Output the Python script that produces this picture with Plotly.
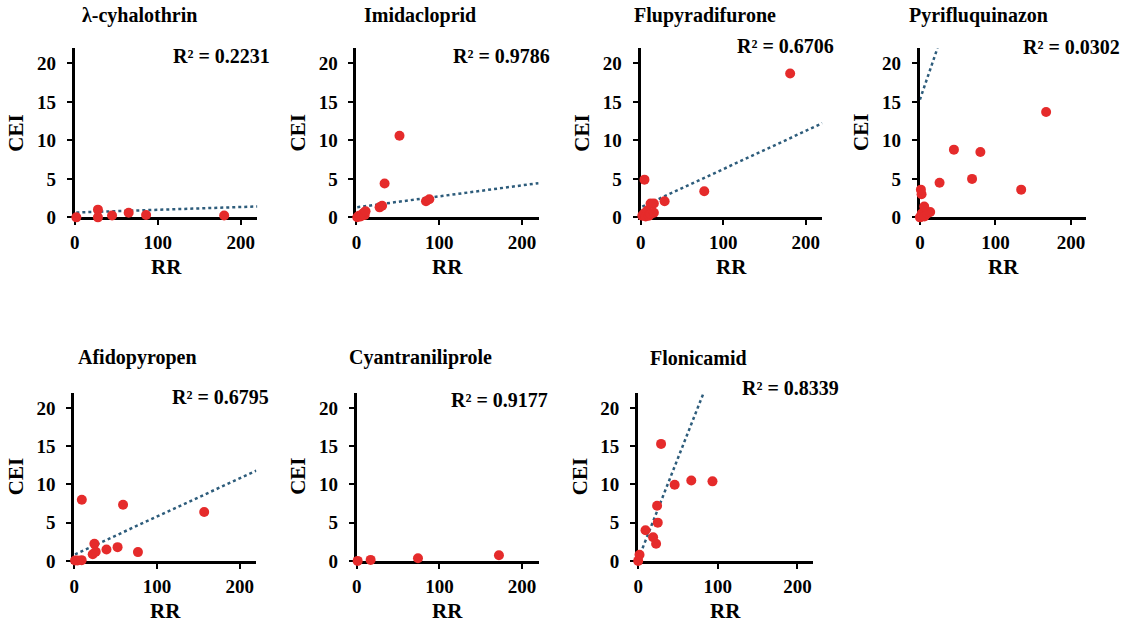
import plotly.graph_objects as go

W, H = 1124, 626   # reference size; all positions below are fractions of it
FIG_H = 638        # rendered height (the capture maps it onto the 626-px picture)

# ---------------- data ----------------
titles = ["λ-cyhalothrin", "Imidacloprid", "Flupyradifurone", "Pyrifluquinazon",
          "Afidopyropen", "Cyantraniliprole", "Flonicamid"]
r2_labels = ["R² = 0.2231", "R² = 0.9786", "R² = 0.6706", "R² = 0.0302",
             "R² = 0.6795", "R² = 0.9177", "R² = 0.8339"]

rr_cyhalothrin = [2, 28, 28, 45, 65, 86, 180]
cei_cyhalothrin = [0.0, 1.0, 0.0, 0.25, 0.6, 0.3, 0.25]

rr_imidacloprid = [1, 3, 5, 7, 9, 10, 11, 28, 31, 34, 52, 84, 88]
cei_imidacloprid = [0.02, 0.2, 0.1, 0.4, 0.6, 0.3, 0.8, 1.3, 1.5, 4.4, 10.6, 2.1, 2.35]

rr_flupyradifurone = [2, 4, 6, 8, 10, 12, 12, 16, 16, 4.6, 29, 77, 181]
cei_flupyradifurone = [0.2, 0.5, 0.1, 0.9, 0.2, 0.4, 1.8, 1.8, 0.6, 4.9, 2.1, 3.4, 18.7]

rr_pyrifluquinazon = [0, 1, 2.5, 3.5, 6, 10, 13.6, 5.7, 2.2, 1.3, 26, 45, 69, 80, 134, 167]
cei_pyrifluquinazon = [0, 0.05, 0.5, 0.26, 0.1, 0.5, 0.7, 1.4, 3.0, 3.6, 4.5, 8.8, 5.0, 8.5, 3.6, 13.7]

rr_afidopyropen = [1, 4, 9, 9.2, 22.4, 24.4, 26, 39, 52.4, 59, 77, 157]
cei_afidopyropen = [0.05, 0.05, 0.1, 8.0, 0.87, 2.25, 1.2, 1.5, 1.8, 7.35, 1.15, 6.4]

rr_cyantraniliprole = [1, 16.7, 74, 172]
cei_cyantraniliprole = [0.0, 0.13, 0.35, 0.74]

rr_flonicamid = [0, 1.7, 9.2, 18.75, 22.5, 24.6, 23.75, 28.75, 45.8, 66.7, 93.3]
cei_flonicamid = [0, 0.8, 4.0, 3.1, 2.25, 5.0, 7.2, 15.3, 9.95, 10.5, 10.4]

# linear trendline (slope, intercept) as drawn in the reference; None = not visible
trend_slope = [0.0036, 0.0143, 0.0497, 0.288, 0.050, None, 0.265]
trend_intercept = [0.62, 1.3, 1.3, 15.3, 0.8, None, 0.2]

x_ticks = [0, 100, 200]
y_ticks = [0, 5, 10, 15, 20]
x_max, y_max = 220, 22

rr_all = [rr_cyhalothrin, rr_imidacloprid, rr_flupyradifurone, rr_pyrifluquinazon,
          rr_afidopyropen, rr_cyantraniliprole, rr_flonicamid]
cei_all = [cei_cyhalothrin, cei_imidacloprid, cei_flupyradifurone, cei_pyrifluquinazon,
           cei_afidopyropen, cei_cyantraniliprole, cei_flonicamid]

# ---------------- layout (pixel boxes of each plot area) ----------------
# (left, right, top, bottom) in reference pixels
boxes = [
    (70, 253.5, 48, 217),
    (353, 536, 48, 217),
    (638.5, 821, 48, 217),
    (919, 1086, 48, 217),
    (69.5, 252.5, 392, 560),
    (353.4, 536, 392, 560),
    (636, 812, 392, 560),
]
title_pos = [(135, 15), (417, 15), (703, 15), (978, 15),
             (133, 357), (417, 357), (697, 357)]
r2_pos = [(217, 56), (499, 56), (784, 46), (1071, 47),
          (216, 396), (497, 399), (789, 387)]

RED = "#E52B2B"
TREND = "#2D5C7B"
FONT = "Liberation Serif"

fig = go.Figure()
annotations = []

def px_x(v):
    return v / W

def px_y(v):
    return 1 - v / H

for i in range(7):
    n = i + 1
    xa = "x" if n == 1 else f"x{n}"
    ya = "y" if n == 1 else f"y{n}"
    rr, cei = rr_all[i], cei_all[i]

    # trendline
    m, b = trend_slope[i], trend_intercept[i]
    if m is not None:
        x0 = min(rr)
        x1 = x_max
        if m * x1 + b > y_max:
            x1 = (y_max - b) / m
        fig.add_trace(go.Scatter(
            x=[x0, x1], y=[m * x0 + b, m * x1 + b], mode="lines",
            line=dict(color=TREND, width=2.5, dash="dot"),
            xaxis=xa, yaxis=ya, showlegend=False, hoverinfo="skip"))

    fig.add_trace(go.Scatter(
        x=rr, y=cei, mode="markers",
        marker=dict(color=RED, size=10, line=dict(width=0)),
        cliponaxis=False, xaxis=xa, yaxis=ya, showlegend=False))

    l, r, t, btm = boxes[i]
    axis_common = dict(
        showline=True, linewidth=3, linecolor="black",
        ticks="outside", ticklen=5, tickwidth=2, tickcolor="black",
        showgrid=False, zeroline=False, layer="below traces",
        tickfont=dict(family=FONT, size=19, color="black", weight="bold"),
        fixedrange=True,
    )
    fig.update_layout(**{
        ("xaxis" if n == 1 else f"xaxis{n}"): dict(
            domain=[px_x(l), px_x(r)], range=[0, x_max], tickvals=x_ticks,
            anchor=ya, ticklabelstandoff=1, **axis_common),
        ("yaxis" if n == 1 else f"yaxis{n}"): dict(
            domain=[px_y(btm), px_y(t)], range=[0, y_max], tickvals=y_ticks,
            anchor=xa, ticklabelstandoff=7, **axis_common),
    })

    # panel title
    tx, ty = title_pos[i]
    annotations.append(dict(
        text=titles[i], x=px_x(tx), y=px_y(ty), xref="paper", yref="paper",
        xanchor="center", yanchor="middle", showarrow=False,
        font=dict(family=FONT, size=20, color="black", weight="bold")))
    # R² label
    rx, ry = r2_pos[i]
    annotations.append(dict(
        text=r2_labels[i], x=px_x(rx), y=px_y(ry), xref="paper", yref="paper",
        xanchor="center", yanchor="middle", showarrow=False,
        font=dict(family=FONT, size=20, color="black", weight="bold")))
    # axis titles
    annotations.append(dict(
        text="RR", x=px_x((l + r) / 2), y=px_y(btm + 50), xref="paper", yref="paper",
        xanchor="center", yanchor="middle", showarrow=False,
        font=dict(family=FONT, size=21, color="black", weight="bold")))
    annotations.append(dict(
        text="CEI", x=px_x(l - 59), y=px_y((t + btm) / 2), xref="paper", yref="paper",
        xanchor="center", yanchor="middle", showarrow=False, textangle=-90,
        font=dict(family=FONT, size=21, color="black", weight="bold")))

fig.update_layout(
    width=W, height=FIG_H, margin=dict(l=0, r=0, t=0, b=0, pad=0),
    paper_bgcolor="white", plot_bgcolor="white",
    annotations=annotations, showlegend=False,
)

fig.write_html(
    "out.html",
    config={"displayModeBar": False},
    post_script="document.body.style.margin='0';document.body.style.padding='0';",
)
